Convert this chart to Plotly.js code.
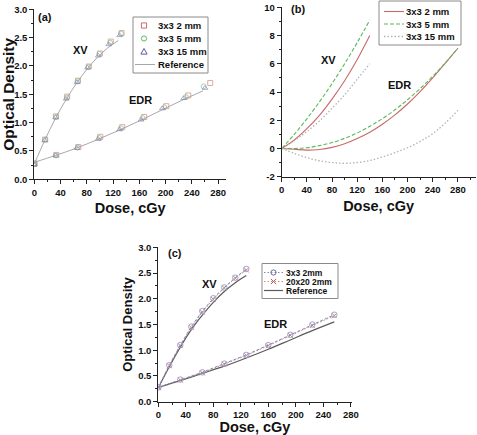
<!DOCTYPE html>
<html><head><meta charset="utf-8">
<script src="https://cdn.plot.ly/plotly-3.0.1.min.js"></script>
<style>html,body{margin:0;padding:0;background:#fff}#chart{width:477px;height:435px}</style>
</head><body><div id="chart"></div>
<script>
// ---------- Panel (a) ----------
const aSeriesNames = ['3x3 2 mm', '3x3 5 mm', '3x3 15 mm', 'Reference'];
const aXvDose2 = [0, 16.5, 33, 50, 66.5, 83, 100, 116.5, 133];
const aXvOd2 = [0.27, 0.70, 1.11, 1.46, 1.74, 1.99, 2.22, 2.43, 2.58];
const aXvDose5 = [0, 16.5, 33, 49.5, 66, 82.5, 99, 115.5, 132];
const aXvOd5 = [0.27, 0.70, 1.10, 1.44, 1.73, 1.98, 2.21, 2.41, 2.57];
const aXvDose15 = [0, 16, 32.5, 48.5, 65, 81, 97.5, 113.5, 130];
const aXvOd15 = [0.26, 0.69, 1.09, 1.42, 1.71, 1.97, 2.18, 2.38, 2.54];
const aEdrDose2 = [0, 33.5, 67, 100.5, 134, 167.5, 201, 234.5, 268];
const aEdrOd2 = [0.28, 0.43, 0.57, 0.75, 0.92, 1.10, 1.29, 1.48, 1.70];
const aEdrDose5 = [0, 33, 66, 99, 132, 165, 198, 231, 258];
const aEdrOd5 = [0.28, 0.42, 0.56, 0.73, 0.90, 1.08, 1.27, 1.45, 1.64];
const aEdrDose15 = [0, 32.5, 65, 97.5, 130, 162.5, 195, 227.5, 260];
const aEdrOd15 = [0.26, 0.42, 0.55, 0.71, 0.88, 1.05, 1.25, 1.43, 1.61];
const aRefXvDose = [0, 16, 32, 48, 64, 80, 96, 112, 128];
const aRefXvOd = [0.27, 0.69, 1.07, 1.40, 1.69, 1.94, 2.15, 2.32, 2.45];
const aRefEdrDose = [0, 32, 64, 96, 128, 160, 192, 224, 257];
const aRefEdrOd = [0.30, 0.42, 0.55, 0.70, 0.86, 1.03, 1.21, 1.39, 1.56];

// ---------- Panel (b) ----------
const bSeriesNames = ['3x3 2 mm', '3x3 5 mm', '3x3 15 mm'];
const bXvDose = [0, 20, 40, 60, 80, 100, 120, 140];
const bXv2 = [0, 0.6, 1.4, 2.35, 3.5, 4.8, 6.3, 8.0];
const bXv5 = [0, 1.0, 2.1, 3.3, 4.6, 6.0, 7.5, 9.1];
const bXv15 = [0, 0.55, 1.2, 1.95, 2.85, 3.8, 4.9, 6.0];
const bEdrDose = [0, 20, 40, 60, 80, 100, 120, 140, 160, 180, 200, 220, 240, 260, 280];
const bEdr2 = [0, -0.06, -0.12, -0.07, 0.08, 0.33, 0.70, 1.15, 1.72, 2.38, 3.15, 4.03, 5.0, 6.05, 7.1];
const bEdr5 = [0, 0.0, 0.05, 0.2, 0.42, 0.72, 1.1, 1.57, 2.11, 2.74, 3.45, 4.24, 5.11, 6.06, 7.1];
const bEdr15 = [0, -0.35, -0.65, -0.87, -1.0, -1.05, -1.0, -0.85, -0.6, -0.3, 0.05, 0.5, 1.05, 1.8, 2.7];
const bYTickVals = [-2, 0, 2, 4, 6, 8, 10];
const bYTickText = ['-2', '0', '2', '4', '6', '8', '10'];

// ---------- Panel (c) ----------
const cSeriesNames = ['3x3 2mm', '20x20 2mm', 'Reference'];
const cXvDose = [0, 16, 32, 48, 64, 80, 96, 112, 128];
const cXv3x3 = [0.28, 0.71, 1.10, 1.46, 1.76, 2.01, 2.22, 2.41, 2.58];
const cXv20x20 = [0.27, 0.70, 1.09, 1.44, 1.74, 1.99, 2.21, 2.40, 2.56];
const cXvRef = [0.27, 0.68, 1.06, 1.40, 1.68, 1.93, 2.14, 2.31, 2.45];
const cEdrDose = [0, 32, 64, 96, 128, 160, 192, 224, 256];
const cEdr3x3 = [0.28, 0.43, 0.57, 0.74, 0.91, 1.10, 1.30, 1.50, 1.69];
const cEdr20x20 = [0.28, 0.42, 0.56, 0.73, 0.90, 1.09, 1.29, 1.48, 1.67];
const cEdrRef = [0.28, 0.41, 0.55, 0.69, 0.85, 1.02, 1.20, 1.38, 1.55];

const doseTicks = [0, 40, 80, 120, 160, 200, 240, 280];
const panelLabels = ['(a)', '(b)', '(c)'];
const curveLabels = ['XV', 'EDR'];
const xTitle = 'Dose, cGy';
const yTitle = 'Optical Density';

// ---------- geometry helpers ----------
const W = 477, H = 435;
const px = v => v / W;
const py = v => 1 - v / H;
const FONT = 'Liberation Sans, Arial, sans-serif';

const colA = ['#c98585', '#7fbf7f', '#8282bb', '#a8a8a8'];
const colB = ['#c86868', '#5cb85c', '#b4b4b4'];
const colC = ['#8484b8', '#cc8a8a', '#5a5a5a'];
const symA = ['square-open', 'circle-open', 'triangle-up-open'];

const traces = [];
function mk(x, y, xa, ya, opt) { traces.push(Object.assign({x, y, xaxis: xa, yaxis: ya, type: 'scatter', showlegend: false, hoverinfo: 'skip'}, opt)); }

// (a)
const aXvD = [aXvDose2, aXvDose5, aXvDose15], aXvO = [aXvOd2, aXvOd5, aXvOd15];
const aEdD = [aEdrDose2, aEdrDose5, aEdrDose15], aEdO = [aEdrOd2, aEdrOd5, aEdrOd15];
mk(aRefXvDose, aRefXvOd, 'x', 'y', {mode: 'lines', name: aSeriesNames[3], line: {color: colA[3], width: 1, shape: 'spline'}});
mk(aRefEdrDose, aRefEdrOd, 'x', 'y', {mode: 'lines', name: aSeriesNames[3], line: {color: colA[3], width: 1, shape: 'spline'}});
for (let i = 0; i < 3; i++) {
  const m = {mode: 'markers', name: aSeriesNames[i], marker: {symbol: symA[i], size: 5, color: colA[i], line: {width: 0.9, color: colA[i]}}, opacity: 0.75};
  mk(aXvD[i], aXvO[i], 'x', 'y', m);
  mk(aEdD[i], aEdO[i], 'x', 'y', m);
}

// (b)
const bXv = [bXv2, bXv5, bXv15], bEd = [bEdr2, bEdr5, bEdr15];
const bDash = ['solid', '4px,2px', '1.5px,2px'], bW = [1.1, 1.1, 1.3];
for (let i = 0; i < 3; i++) {
  const l = {mode: 'lines', name: bSeriesNames[i], line: {color: colB[i], dash: bDash[i], width: bW[i], shape: 'spline'}};
  mk(bXvDose, bXv[i], 'x2', 'y2', l);
  mk(bEdrDose, bEd[i], 'x2', 'y2', l);
}

// (c)
mk(cXvDose, cXvRef, 'x3', 'y3', {mode: 'lines', name: cSeriesNames[2], line: {color: colC[2], width: 1.2, shape: 'spline'}});
mk(cEdrDose, cEdrRef, 'x3', 'y3', {mode: 'lines', name: cSeriesNames[2], line: {color: colC[2], width: 1.2, shape: 'spline'}});
const c20 = {mode: 'lines+markers', name: cSeriesNames[1], line: {color: colC[1], width: 1, dash: '1.5px,2px'}, marker: {symbol: 'x-thin-open', size: 5, color: colC[1], line: {width: 1, color: colC[1]}}};
mk(cXvDose, cXv20x20, 'x3', 'y3', c20);
mk(cEdrDose, cEdr20x20, 'x3', 'y3', c20);
const c3 = {mode: 'lines+markers', name: cSeriesNames[0], line: {color: colC[0], width: 1, dash: '3px,2px'}, marker: {symbol: 'circle-open', size: 5.5, color: '#a2a2c8', line: {width: 1, color: '#a2a2c8'}}};
mk(cXvDose, cXv3x3, 'x3', 'y3', c3);
mk(cEdrDose, cEdr3x3, 'x3', 'y3', c3);

// ---------- axes ----------
const tickFont = {family: FONT, size: 9.5, color: '#111', weight: 'bold'};
function axBase(extra) {
  return Object.assign({showline: true, linecolor: '#222', linewidth: 1, ticks: 'outside', ticklen: 4, tickwidth: 1, tickcolor: '#222',
    showgrid: false, zeroline: false, tickfont: tickFont, fixedrange: true}, extra);
}
const xMinor = {ticklen: 2, tickcolor: '#222', dtick: 20, ticks: 'outside', showgrid: false};

const layout = {
  width: W, height: H, margin: {l: 0, r: 0, t: 0, b: 0}, paper_bgcolor: '#fff', plot_bgcolor: 'rgba(0,0,0,0)',
  showlegend: false, font: {family: FONT, color: '#111'},
  xaxis: axBase({domain: [px(34.3), px(226)], range: [0, 292], anchor: 'y', tickvals: doseTicks, minor: xMinor,
    title: {text: xTitle, font: {family: FONT, size: 14.5, weight: 'bold', color: '#111'}, standoff: 6}}),
  yaxis: axBase({domain: [py(179.3), py(9.3)], range: [0, 3], anchor: 'x', dtick: 0.5, tickformat: '.1f',
    minor: {ticklen: 2, tickcolor: '#222', dtick: 0.25, ticks: 'outside', showgrid: false},
    title: {text: yTitle, font: {family: FONT, size: 15.5, weight: 'bold', color: '#111'}, standoff: 3}}),
  xaxis2: axBase({domain: [px(281.7), px(475.5)], range: [0, 308], anchor: 'y2', tickvals: doseTicks, minor: xMinor,
    title: {text: xTitle, font: {family: FONT, size: 14.5, weight: 'bold', color: '#111'}, standoff: 6}}),
  yaxis2: axBase({domain: [py(176.7), py(7.3)], range: [-2, 10], anchor: 'x2', tickvals: bYTickVals, ticktext: bYTickText,
    minor: {ticklen: 2, tickcolor: '#222', dtick: 1, ticks: 'outside', showgrid: false}}),
  xaxis3: axBase({domain: [px(158.3), px(351.5)], range: [0, 281], anchor: 'y3', tickvals: doseTicks, minor: xMinor,
    title: {text: xTitle, font: {family: FONT, size: 14.5, weight: 'bold', color: '#111'}, standoff: 6}}),
  yaxis3: axBase({domain: [py(401.7), py(247.3)], range: [0, 3], anchor: 'x3', dtick: 0.5, tickformat: '.1f',
    minor: {ticklen: 2, tickcolor: '#222', dtick: 0.25, ticks: 'outside', showgrid: false},
    title: {text: yTitle, font: {family: FONT, size: 13, weight: 'bold', color: '#111'}, standoff: 2}}),
  shapes: [], annotations: []
};

// ---------- in-plot labels ----------
const lblFont = {family: FONT, size: 11, color: '#111', weight: 'bold'};
function lbl(text, x, y, xr, yr) { layout.annotations.push({text, x, y, xref: xr, yref: yr, showarrow: false, font: lblFont, xanchor: 'center', yanchor: 'middle'}); }
lbl(panelLabels[0], 16, 2.86, 'x', 'y');
lbl(curveLabels[0], 70, 2.28, 'x', 'y');
lbl(curveLabels[1], 161, 1.40, 'x', 'y');
lbl(panelLabels[1], 26, 9.85, 'x2', 'y2');
lbl(curveLabels[0], 74, 6.3, 'x2', 'y2');
lbl(curveLabels[1], 187, 4.5, 'x2', 'y2');
lbl(panelLabels[2], 24, 2.89, 'x3', 'y3');
lbl(curveLabels[0], 74, 2.29, 'x3', 'y3');
lbl(curveLabels[1], 170, 1.51, 'x3', 'y3');

// ---------- legends (drawn as decorations) ----------
const S = layout.shapes, A = layout.annotations;
function box(x0, y0, x1, y1) { S.push({type: 'rect', xref: 'paper', yref: 'paper', x0: px(x0), x1: px(x1), y0: py(y1), y1: py(y0), line: {color: '#8a8a8a', width: 1}, fillcolor: '#fff', layer: 'above'}); }
function seg(x0, x1, y, color, dash, width) { S.push({type: 'line', xref: 'paper', yref: 'paper', x0: px(x0), x1: px(x1), y0: py(y), y1: py(y), line: {color, dash, width}}); }
function sym(kind, x, y, color) {
  const r = 2.6;
  const ln = {color, width: 1};
  if (kind === 'square') S.push({type: 'rect', xref: 'paper', yref: 'paper', x0: px(x - r), x1: px(x + r), y0: py(y + r), y1: py(y - r), line: ln});
  if (kind === 'circle') S.push({type: 'circle', xref: 'paper', yref: 'paper', x0: px(x - r), x1: px(x + r), y0: py(y + r), y1: py(y - r), line: ln});
  if (kind === 'triangle') S.push({type: 'path', xref: 'paper', yref: 'paper', path: `M ${px(x - r - 0.5)} ${py(y + r)} L ${px(x + r + 0.5)} ${py(y + r)} L ${px(x)} ${py(y - r - 0.5)} Z`, line: ln});
  if (kind === 'x') {
    S.push({type: 'line', xref: 'paper', yref: 'paper', x0: px(x - r), x1: px(x + r), y0: py(y - r), y1: py(y + r), line: ln});
    S.push({type: 'line', xref: 'paper', yref: 'paper', x0: px(x - r), x1: px(x + r), y0: py(y + r), y1: py(y - r), line: ln});
  }
}
function txt(text, x, y, size) { A.push({text, x: px(x), y: py(y), xref: 'paper', yref: 'paper', showarrow: false, xanchor: 'left', yanchor: 'middle', borderpad: 0, font: {family: FONT, size, color: '#111', weight: 'bold'}}); }

// legend (a)
box(133, 17, 208, 73);
const aRows = [25.5, 38.5, 51.5, 64.5];
sym('square', 144, aRows[0], '#d06a6a'); txt(aSeriesNames[0], 157, aRows[0], 9.5);
sym('circle', 144, aRows[1], '#5cb85c'); txt(aSeriesNames[1], 157, aRows[1], 9.5);
sym('triangle', 144, aRows[2], '#5a5aa8'); txt(aSeriesNames[2], 157, aRows[2], 9.5);
seg(135, 155, aRows[3], colA[3], 'solid', 1); txt(aSeriesNames[3], 157, aRows[3], 9.5);

// legend (b)
box(379, 1, 461, 45);
const bRows = [11.5, 24, 36.5];
for (let i = 0; i < 3; i++) { seg(384, 404, bRows[i], colB[i], bDash[i], bW[i]); txt(bSeriesNames[i], 405, bRows[i], 9.5); }

// legend (c)
box(262, 263.5, 338, 298.5);
const cRows = [272.5, 281.5, 290.5];
seg(264, 283, cRows[0], colC[0], '1.5px,2px', 1); sym('circle', 273.5, cRows[0], '#6a6aa8'); txt(cSeriesNames[0], 285, cRows[0], 8.5);
seg(264, 283, cRows[1], colC[1], '1.5px,2px', 1); sym('x', 273.5, cRows[1], '#c05a5a'); txt(cSeriesNames[1], 285, cRows[1], 8.5);
seg(264, 283, cRows[2], colC[2], 'solid', 1.2); txt(cSeriesNames[2], 285, cRows[2], 8.5);

Plotly.newPlot('chart', traces, layout, {staticPlot: true, displayModeBar: false});
</script>
</body></html>
